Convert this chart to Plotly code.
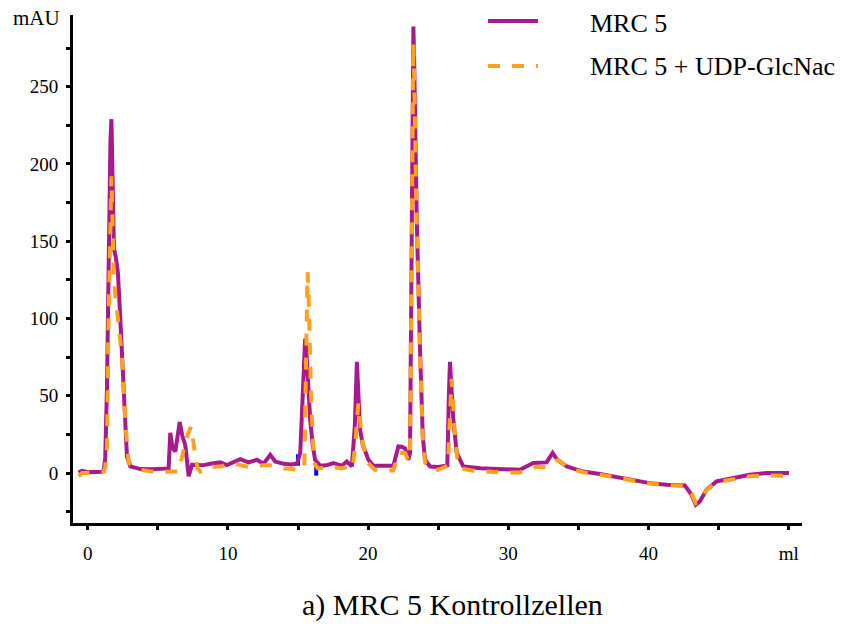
import plotly.graph_objects as go

# ---- data ----
mrc5_ml = [-0.65, -0.4, 0.0, 0.5, 1.0, 1.15, 1.25, 1.37, 1.49, 1.62, 1.69, 1.75, 1.80, 1.87, 2.0, 2.15, 2.28, 2.45,
           2.61, 2.8, 3.04, 3.75, 4.5, 5.2, 5.77, 5.89, 6.05, 6.25, 6.56, 6.75, 6.96, 7.2, 7.44, 7.55,
           8.2, 8.74, 9.46, 9.93, 10.4, 10.88, 11.47, 12.07, 12.54, 13.02, 13.37, 13.97, 14.5, 14.92,
           15.16, 15.28, 15.45, 15.51, 15.58, 15.7, 15.87, 16.05, 16.22, 16.58, 17.0, 17.53, 18.13, 18.48, 18.84,
           19.05, 19.15, 19.2, 19.25, 19.43, 19.62, 20.02, 20.38, 21.1, 21.8, 22.16, 22.4, 22.64, 22.87, 22.99, 23.1,
           23.18, 23.23, 23.28, 23.47, 23.71, 23.9, 24.06, 24.42, 25.0, 25.65, 25.76, 25.84, 25.9, 26.08, 26.32, 26.79,
           28.0, 29.41, 30.83, 31.78, 32.73, 33.16, 33.5, 34.16, 35.34, 36.53, 37.72, 38.91, 40.1,
           41.29, 42.59, 43.07, 43.37, 43.66, 44.14, 44.85, 46.03, 47.22, 48.41, 50.02]
mrc5_mau = [0.3, 1.5, 0.6, 0.7, 0.8, 2, 10, 54, 140, 215, 229, 200, 170, 145, 140, 130, 108, 75,
            43, 10.7, 4.3, 2.6, 2.5, 2.5, 3, 26, 16, 14, 33, 24, 18, -2, 5.4, 5.4,
            5, 6, 6.9, 5.2, 7, 9, 6.9, 8.6, 6, 11.8, 7.5, 6, 5.5, 6,
            13, 36.6, 80, 87, 82, 60, 34.5, 18, 8.6, 4.7, 5, 6.5, 4.7, 7.5, 4.3,
            30, 66, 72, 62, 28, 18.3, 8.6, 4.7, 4.5, 4.7, 17.2, 17, 16, 8.6, 13, 150,
            270, 289, 270, 164, 78, 23.7, 8.6, 4.3, 4.0, 5, 50, 72, 62, 34.5, 13, 4.3,
            3.2, 2.6, 2.1, 6.5, 6.9, 13, 8.5, 4.3, 1, -0.6, -2.6, -4.8, -6.5,
            -7.6, -8, -14, -20.5, -18.4, -10.8, -5.4, -3.2, -1.1, 0, 0]

udp_ml = [-0.65, -0.4, 0.0, 0.5, 1.0, 1.15, 1.25, 1.38, 1.47, 1.62, 1.69, 1.76, 1.85, 1.97, 2.2, 2.45, 2.69,
          2.92, 3.75, 4.5, 5.5, 6.5, 6.84, 7.1, 7.37, 7.55, 7.7, 7.85, 8.03, 8.5, 9.5, 10.5, 11.5,
          12.5, 13.0, 13.5, 14.0, 14.5, 14.92, 15.45, 15.55, 15.63, 15.68, 15.74, 15.8, 15.92, 16.05, 16.2, 16.4,
          17.0, 17.5, 18.1, 18.5, 18.9, 19.1, 19.3, 19.6, 20.0, 20.5, 21.3, 21.8, 22.16, 22.4,
          22.64, 22.87, 22.99, 23.1, 23.18, 23.23, 23.28, 23.47, 23.71, 23.9, 24.06, 24.42, 25.0, 25.7, 25.85,
          25.96, 26.15, 26.35, 26.6, 27.5, 29.41, 30.83, 31.95, 32.7, 33.0, 33.56, 34.16, 35.34,
          36.53, 37.72, 38.91, 40.1, 41.29, 42.59, 43.07, 43.37, 43.66, 44.14, 44.85, 46.03, 47.22,
          48.41, 50.02]
udp_mau = [-2, 0, 0, 0.3, 0.5, 1, 4, 17, 90, 180, 192, 165, 130, 115, 95, 75, 32,
           6.5, 2.1, 1, 0.8, 1, 15, 24, 30, 18, 10, 3, 1, 4, 4.3, 6, 4,
           5, 5, 4, 3, 2.8, 2, 3, 50, 118, 130, 120, 95, 55, 22, 6, 3,
           3.5, 4, 3, 4, 3, 20, 45, 20, 6.5, 2, 1.7, 1.7, 13, 13,
           13, 8, 12, 140, 260, 278, 260, 160, 76, 22, 7, 3, 2, 5, 40,
           61, 30, 10, 3, 1.5, 0.4, 0.4, 3.9, 3.9, 5, 8.6, 4, 0.5,
           -1, -3, -5, -6.8, -7.8, -8.2, -13, -19.5, -18, -11, -6, -3.8, -2,
           -1.5, -1.7]

marker_ml = [15.0, 16.3]
marker_mau = [8.5, 2]

x_tickvals = [0, 10, 20, 30, 40, 50]
x_ticktext = ["0", "10", "20", "30", "40", "ml"]
y_tickvals = [0, 50, 100, 150, 200, 250]

series_names = ["MRC 5", "MRC 5 + UDP-GlcNac"]
caption = "a) MRC 5 Kontrollzellen"
y_unit = "mAU"

PURPLE = "#A8198C"
ORANGE = "#FFA01E"
FONT = "Liberation Serif"

fig = go.Figure()
fig.add_trace(go.Scatter(x=marker_ml, y=marker_mau, mode="markers", showlegend=False,
                         marker=dict(symbol="line-ns", size=8, line=dict(width=4, color="#0000EE")),
                         hoverinfo="skip"))
fig.add_trace(go.Scatter(x=mrc5_ml, y=mrc5_mau, mode="lines", name=series_names[0], showlegend=False,
                         line=dict(color=PURPLE, width=4)))
fig.add_trace(go.Scatter(x=udp_ml, y=udp_mau, mode="lines", name=series_names[1], showlegend=False,
                         line=dict(color=ORANGE, width=4, dash="dash")))

axis_common = dict(showgrid=False, zeroline=False, showline=True, linecolor="black", linewidth=3,
                   ticks="outside", ticklen=4, tickwidth=3, tickcolor="black", automargin=False,
                   tickfont=dict(family=FONT, size=19, color="black"))

fig.update_xaxes(range=[-1.05, 50.95], tickmode="array", tickvals=x_tickvals, ticktext=x_ticktext,
                 minor=dict(dtick=5, tick0=0, ticks="outside", ticklen=4, tickwidth=3, tickcolor="black"),
                 ticklabelstandoff=7, **axis_common)
fig.update_yaxes(range=[-32.3, 296.4], tickmode="array", tickvals=y_tickvals,
                 minor=dict(dtick=25, tick0=0, ticks="outside", ticklen=4, tickwidth=3, tickcolor="black"),
                 ticklabelstandoff=4, **axis_common)

# legend (drawn as key lines + labels, in paper coordinates)
legend_rows = [(series_names[0], PURPLE, "solid", 0.988, 0.984),
               (series_names[1], ORANGE, "dash", 0.8997, 0.8977)]
shapes = []
annotations = []
for name, color, dash, ly, ty in legend_rows:
    shapes.append(dict(type="line", xref="paper", yref="paper", x0=0.5693, x1=0.6379, y0=ly, y1=ly,
                       line=dict(color=color, width=4, dash=dash)))
    annotations.append(dict(text=name, xref="paper", yref="paper", x=0.7064, y=ty, xanchor="left",
                            yanchor="middle", showarrow=False,
                            font=dict(family=FONT, size=26, color="black")))

annotations += [
    dict(text=y_unit, xref="paper", yref="paper", x=-0.015, y=0.994, xanchor="right", yanchor="middle",
         showarrow=False, font=dict(family=FONT, size=21, color="black")),
    dict(text=caption, xref="paper", yref="paper", x=0.5207, y=-0.1607, xanchor="center",
         yanchor="middle", showarrow=False, font=dict(family=FONT, size=30, color="black")),
]

fig.update_layout(
    width=852, height=624,
    margin=dict(l=73, r=50, t=15, b=101, pad=0, autoexpand=False),
    plot_bgcolor="white", paper_bgcolor="white",
    font=dict(family=FONT, color="black"),
    showlegend=False,
    shapes=shapes,
    annotations=annotations,
)

fig.write_html("out.html", config={"displayModeBar": False},
               post_script="document.body.style.margin='0px';document.body.style.overflow='hidden';")
